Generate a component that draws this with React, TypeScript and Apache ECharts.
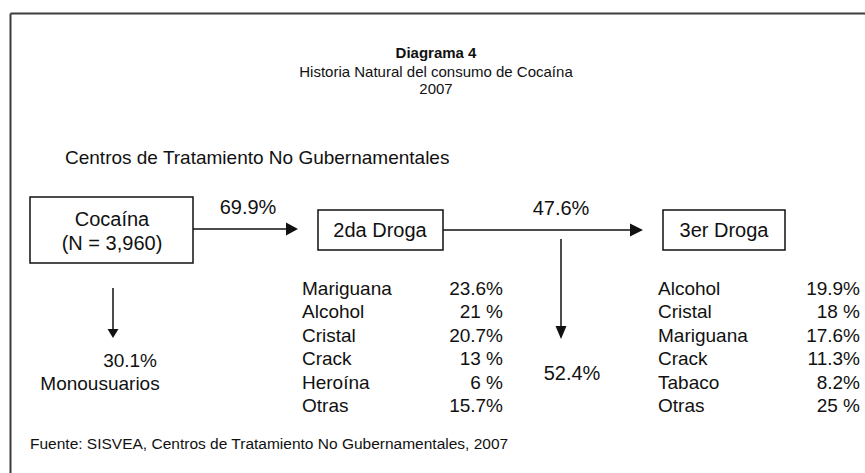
import React, { useEffect, useRef } from "react";
import * as echarts from "echarts";

// ---- Data ----
const titleLines = ["Diagrama 4", "Historia Natural del consumo de Cocaína", "2007"];
const subtitle = "Centros de Tratamiento No Gubernamentales";
const sourceNote = "Fuente: SISVEA, Centros de Tratamiento No Gubernamentales, 2007";
const boxLabels = ["Cocaína", "2da Droga", "3er Droga"];
const cocaineN = "3,960";
const flowToSecond = 69.9; // % go on to a 2nd drug
const monoUsers = 30.1; // % monousuarios
const flowToThird = 47.6; // % go on to a 3rd drug
const stopAtSecond = 52.4; // % stay at 2nd drug
const secondDrugNames = ["Mariguana", "Alcohol", "Cristal", "Crack", "Heroína", "Otras"];
const secondDrugValues = [23.6, 21, 20.7, 13, 6, 15.7];
const thirdDrugNames = ["Alcohol", "Cristal", "Mariguana", "Crack", "Tabaco", "Otras"];
const thirdDrugValues = [19.9, 18, 17.6, 11.3, 8.2, 25];

const pct = (v: number) => (Number.isInteger(v) ? `${v} %` : `${v.toFixed(1)}%`);

const FONT = '"Liberation Sans", Arial, Helvetica, sans-serif';
const INK = "#111";

function txt(text: string, x: number, y: number, size: number, align = "left", bold = false) {
  return {
    type: "text",
    silent: true,
    style: {
      text,
      x,
      y,
      fill: INK,
      font: `${bold ? "bold " : ""}${size}px ${FONT}`,
      textAlign: align,
      textVerticalAlign: "middle",
      align,
      verticalAlign: "middle",
    },
  };
}

function rect(x: number, y: number, w: number, h: number) {
  return {
    type: "rect",
    silent: true,
    shape: { x, y, width: w, height: h },
    style: { fill: "#fff", stroke: INK, lineWidth: 1.5 },
  };
}

function line(x1: number, y1: number, x2: number, y2: number, w = 1.5, color = INK) {
  return {
    type: "line",
    silent: true,
    shape: { x1, y1, x2, y2 },
    style: { stroke: color, lineWidth: w },
  };
}

function head(points: number[][]) {
  return { type: "polygon", silent: true, shape: { points }, style: { fill: INK } };
}

export default function App() {
  const ref = useRef<HTMLDivElement>(null);
  useEffect(() => {
    if (!ref.current) return;
    const chart = echarts.init(ref.current, undefined, { renderer: "svg" });
    const rowY = (i: number) => 288 + i * 23.5;
    const elements: any[] = [
      // frame (top and left edges visible)
      line(10.5, 13.5, 865, 13.5, 2, "#3c3c3c"),
      line(10.5, 13.5, 10.5, 473, 2, "#3c3c3c"),
      // titles
      txt(titleLines[0], 436, 52, 15, "center", true),
      txt(titleLines[1], 436, 71, 15, "center"),
      txt(titleLines[2], 436, 88, 15, "center"),
      txt(subtitle, 65, 157, 19, "left"),
      // boxes
      rect(30, 197, 163, 66),
      txt(boxLabels[0], 112, 219, 20, "center"),
      txt(`(N = ${cocaineN})`, 112, 243, 20, "center"),
      rect(318, 210, 125, 40),
      txt(boxLabels[1], 380, 230, 20, "center"),
      rect(663, 210, 122, 40),
      txt(boxLabels[2], 724, 230, 20, "center"),
      // arrow 1
      line(193, 229, 289, 229),
      head([[286, 222.5], [298, 229], [286, 235.5]]),
      txt(pct(flowToSecond), 248, 207, 20, "center"),
      // arrow 2
      line(443, 230, 632, 230),
      head([[630, 223.5], [643, 230], [630, 236.5]]),
      txt(pct(flowToThird), 561, 208, 20, "center"),
      // down arrow from cocaine
      line(113, 288, 113, 331),
      head([[107.5, 329], [113, 338], [118.5, 329]]),
      txt(pct(monoUsers), 157, 360, 19, "right"),
      txt("Monousuarios", 100, 383, 19, "center"),
      // down arrow from 2nd drug line
      line(561, 239, 561, 328),
      head([[555.5, 326], [561, 339], [566.5, 326]]),
      txt(pct(stopAtSecond), 572, 373, 20, "center"),
      // source
      txt(sourceNote, 30, 443, 15.5, "left"),
    ];
    secondDrugNames.forEach((n, i) => {
      elements.push(txt(n, 302, rowY(i), 19, "left"));
      elements.push(txt(pct(secondDrugValues[i]), 503, rowY(i), 19, "right"));
    });
    thirdDrugNames.forEach((n, i) => {
      elements.push(txt(n, 658, rowY(i), 19, "left"));
      elements.push(txt(pct(thirdDrugValues[i]), 860, rowY(i), 19, "right"));
    });
    chart.setOption({
      animation: false,
      backgroundColor: "#fff",
      graphic: { elements },
    });
    return () => chart.dispose();
  }, []);
  return (
    <div
      ref={ref}
      style={{ position: "absolute", left: 0, top: 0, width: 865, height: 473, background: "#fff" }}
    />
  );
}
